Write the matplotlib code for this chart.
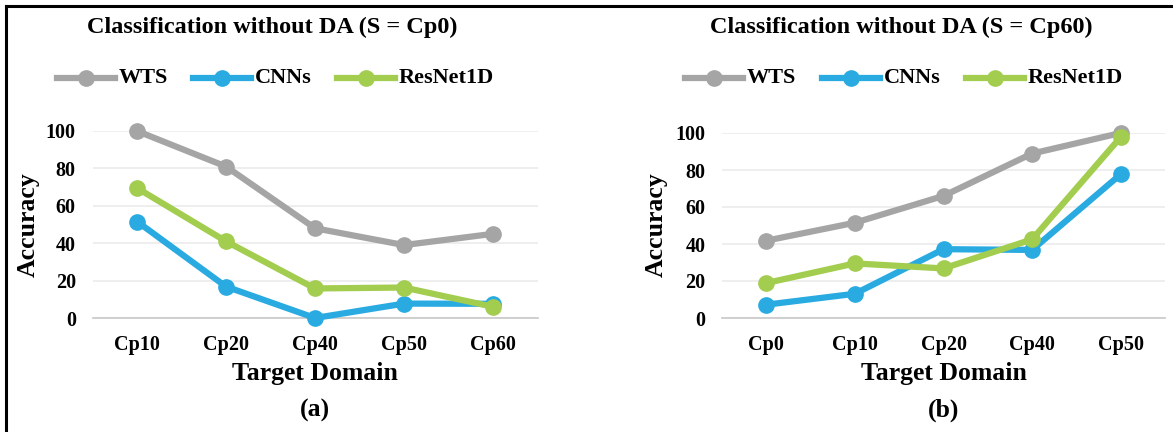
import numpy as np
import matplotlib
matplotlib.use('Agg')
import matplotlib.pyplot as plt
from matplotlib.lines import Line2D

plt.rcParams['font.family'] = ['Liberation Serif', 'DejaVu Serif']
plt.rcParams['font.weight'] = 'bold'

# panel (a): source Cp0
cats_a = ['Cp10', 'Cp20', 'Cp40', 'Cp50', 'Cp60']
wts_a = [100, 81, 48, 39, 45]
cnn_a = [51.6, 16.8, 0, 7.7, 7.6]
res_a = [69.5, 41, 15.8, 16.3, 6]

# panel (b): source Cp60
cats_b = ['Cp0', 'Cp10', 'Cp20', 'Cp40', 'Cp50']
wts_b = [41.8, 51.5, 66, 88.9, 100]
cnn_b = [7.2, 13.1, 37.2, 36.8, 77.7]
res_b = [18.9, 29.5, 26.8, 42.5, 97.8]

names = ['WTS', 'CNNs', 'ResNet1D']
colors = ['#A5A5A5', '#29ABE2', '#A2CD4E']

fig = plt.figure(figsize=(11.73, 4.32), dpi=100)

# border lines (top and left)
fig.add_artist(Line2D([6/1173, 1], [1 - 6/432, 1 - 6/432], color='black', lw=2.2,
                      transform=fig.transFigure))
fig.add_artist(Line2D([6/1173, 6/1173], [0, 1 - 6/432], color='black', lw=2.2,
                      transform=fig.transFigure))


def panel(rect, cats, series, title, tag, title_x, leg_xs, ylab_x):
    ax = fig.add_axes(rect)
    x = np.arange(len(cats))
    for vals, c in zip(series, colors):
        ax.plot(x, vals, color=c, lw=4.5, marker='o', markersize=11,
                clip_on=False, zorder=3)
    ax.set_xlim(-0.5, len(cats) - 0.5)
    ax.set_ylim(0, 100)
    ax.set_yticks(range(0, 101, 20))
    ax.set_xticks(x)
    ax.set_xticklabels(cats)
    ax.tick_params(length=0, labelsize=14.5)
    ax.tick_params(axis='y', pad=12)
    ax.tick_params(axis='x', pad=12)
    ax.grid(axis='y', color='#EBEBEB', lw=1.2)
    ax.set_axisbelow(True)
    for s in ['top', 'right', 'left']:
        ax.spines[s].set_visible(False)
    ax.spines['bottom'].set_color('#C8C8C8')
    ax.spines['bottom'].set_linewidth(1.2)
    ax.set_xlabel('Target Domain', fontsize=18.5, fontweight='bold', labelpad=5)
    fig.text(ylab_x, 1 - 225/432, 'Accuracy', rotation=90, fontsize=18.5,
             fontweight='bold', ha='center', va='center')
    fig.text(title_x, 1 - 27/432, title, fontsize=17.5, fontweight='bold',
             ha='center', va='center')
    fig.text(rect[0] + rect[2] / 2, 1 - 410/432, tag,
             fontsize=18.5, fontweight='bold', ha='center', va='center')
    # legend drawn manually in figure coords
    ly = 1 - 78/432
    for lx, name, c in zip(leg_xs, names, colors):
        x0, x1 = lx / 1173, (lx + 58) / 1173
        fig.add_artist(Line2D([x0, x1], [ly, ly], color=c, lw=4.5,
                              transform=fig.transFigure))
        fig.add_artist(Line2D([(x0 + x1) / 2], [ly], color=c, marker='o',
                              markersize=11, transform=fig.transFigure))
        fig.text(x1 + 4/1173, ly, name, fontsize=16, fontweight='bold',
                 ha='left', va='center')
    return ax


panel([92.5/1173, 114/432, 445/1173, 187/432], cats_a, [wts_a, cnn_a, res_a],
      'Classification without DA (S = Cp0)', '(a)', 272/1173,
      [57, 193, 337], 28/1173)
panel([722/1173, 114/432, 443/1173, 185/432], cats_b, [wts_b, cnn_b, res_b],
      'Classification without DA (S = Cp60)', '(b)', 901/1173,
      [685, 822, 966], 656/1173)

plt.savefig('out.png', dpi=100)
